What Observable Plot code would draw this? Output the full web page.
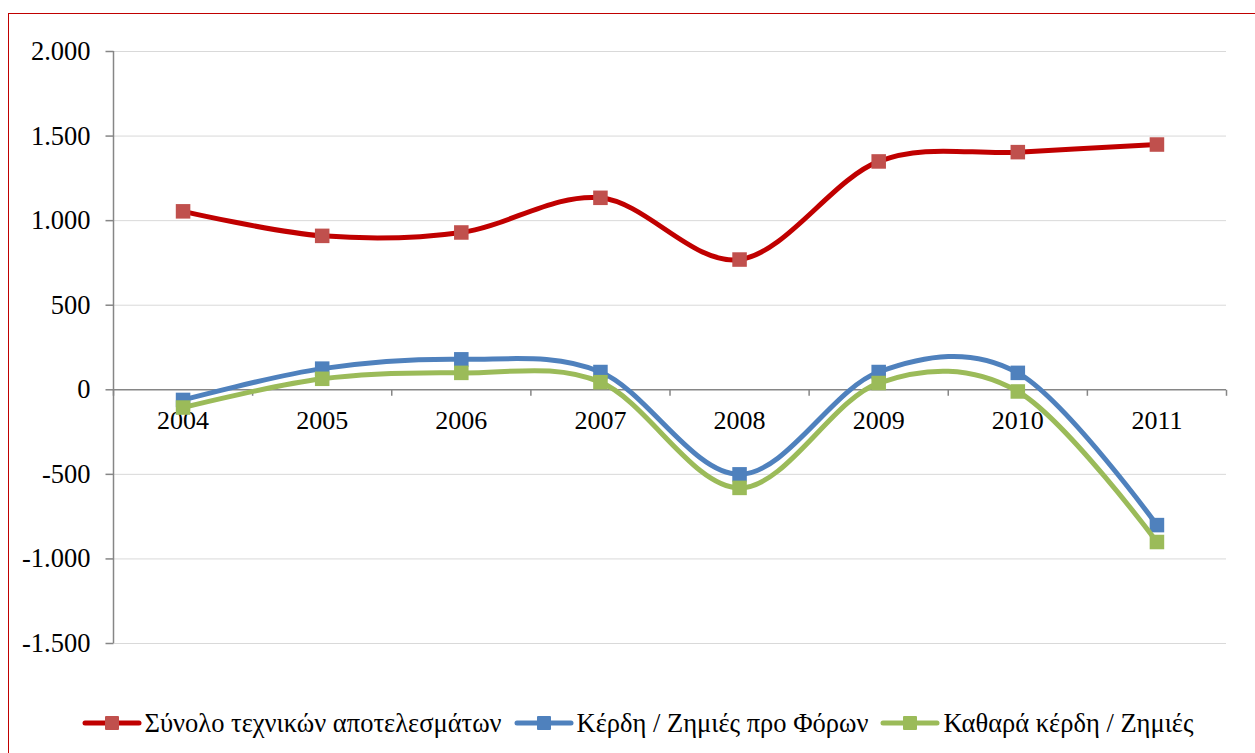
<!DOCTYPE html>
<html>
<head>
<meta charset="utf-8">
<script src="https://cdn.jsdelivr.net/npm/d3@7"></script>
<script src="https://cdn.jsdelivr.net/npm/@observablehq/plot@0.6"></script>
<style>
  html, body { margin: 0; padding: 0; background: #fff; overflow: hidden; }
  #wrap { position: relative; width: 1255px; height: 753px; overflow: hidden; font-family: "Liberation Serif", "Times New Roman", serif; }
  #frame { position: absolute; left: 8px; top: 13px; width: 1300px; height: 800px; border-left: 1.5px solid #c00000; border-top: 1.5px solid #c00000; box-sizing: border-box; }
  #chart { position: absolute; left: 0; top: 0; }
  #legend { position: absolute; left: 20px; top: 706px; width: 1235px; height: 34px; display: flex; justify-content: center; align-items: center; font-family: "Liberation Serif", "Times New Roman", serif; font-size: 26.5px; color: #000; }
  .item { display: flex; align-items: center; margin: 0 6px; white-space: nowrap; }
  .item svg { margin-right: 3px; }
</style>
</head>
<body>
<div id="wrap">
  <div id="frame"></div>
  <div id="chart"></div>
  <div id="legend"></div>
</div>
<script>
const years = [2004, 2005, 2006, 2007, 2008, 2009, 2010, 2011];
const totalTech = [1055, 910, 930, 1135, 770, 1350, 1405, 1450];
const preTax = [-60, 125, 180, 105, -500, 105, 100, -800];
const netProfit = [-105, 65, 100, 45, -580, 40, -10, -900];
const seriesNames = ["Σύνολο τεχνικών αποτελεσμάτων", "Κέρδη / Ζημιές προ Φόρων", "Καθαρά κέρδη / Ζημιές"];
const lineColors = ["#c00000", "#4f81bd", "#9bbb59"];
const markerColors = ["#c0504d", "#4f81bd", "#9bbb59"];
const yTicks = [-1500, -1000, -500, 0, 500, 1000, 1500, 2000];

const seriesValues = [totalTech, preTax, netProfit];
const locale = d3.formatLocale({decimal: ",", thousands: ".", grouping: [3], currency: ["", ""], minus: "-"});
const fmt = locale.format(",");
const fontFamily = "'Liberation Serif', 'Times New Roman', serif";
const axisGray = "#868686";

const xDomain = [years[0] - 0.5, years[years.length - 1] + 0.5];
const boundaries = years.map(y => y - 0.5).concat([years[years.length - 1] + 0.5]);

const tickDown = { draw(ctx) { ctx.moveTo(0, 0); ctx.lineTo(0, 6); } };
const tickLeft = { draw(ctx) { ctx.moveTo(-8, 0); ctx.lineTo(0, 0); } };

const seriesMarks = [];
seriesValues.forEach((vals, i) => {
  seriesMarks.push(Plot.line(years, {
    x: d => d, y: (d, j) => vals[j], curve: "cardinal", tension: 0,
    stroke: lineColors[i], strokeWidth: 5, strokeLinejoin: "round", strokeLinecap: "round"
  }));
  seriesMarks.push(Plot.dot(years, {
    x: d => d, y: (d, j) => vals[j], symbol: "square", r: 8.2,
    fill: markerColors[i], stroke: "none"
  }));
});

const chart = Plot.plot({
  width: 1255,
  height: 700,
  marginTop: 51,
  marginBottom: 57,
  marginLeft: 113,
  marginRight: 29,
  style: { fontFamily, background: "transparent", overflow: "visible" },
  x: { type: "linear", domain: xDomain, axis: null },
  y: { type: "linear", domain: [yTicks[0], yTicks[yTicks.length - 1]], axis: null },
  marks: [
    Plot.ruleY(yTicks.filter(t => t !== 0), { y: d => d, stroke: "#d9d9d9", strokeWidth: 1 }),
    Plot.ruleX([xDomain[0]], { x: d => d, stroke: axisGray, strokeWidth: 1.5 }),
    Plot.dot(yTicks, { y: d => d, frameAnchor: "left", symbol: tickLeft, fill: "none", stroke: axisGray, strokeWidth: 1.5 }),
    Plot.text(yTicks, { y: d => d, frameAnchor: "left", dx: -23, textAnchor: "end", text: d => fmt(d), fontSize: 26.5, fill: "#000" }),
    Plot.ruleY([0], { y: d => d, stroke: axisGray, strokeWidth: 1.5 }),
    Plot.dot(boundaries, { x: d => d, y: () => 0, symbol: tickDown, fill: "none", stroke: axisGray, strokeWidth: 1.5 }),
    Plot.text(years, { x: d => d, y: () => 0, dy: 31, text: d => String(d), fontSize: 26, fill: "#000" }),
    ...seriesMarks
  ]
});
document.getElementById("chart").appendChild(chart);

const legend = document.getElementById("legend");
seriesNames.forEach((name, i) => {
  const item = document.createElement("div");
  item.className = "item";
  item.innerHTML = `<svg width="60" height="20"><line x1="3" y1="10" x2="57" y2="10" stroke="${lineColors[i]}" stroke-width="5" stroke-linecap="round"/><rect x="23" y="3" width="14" height="14" rx="1" fill="${markerColors[i]}"/></svg><span>${name}</span>`;
  legend.appendChild(item);
});
</script>
</body>
</html>
